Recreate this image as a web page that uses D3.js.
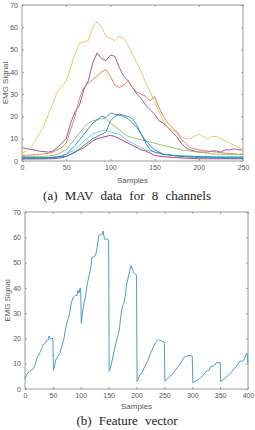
<!DOCTYPE html>
<html><head><meta charset="utf-8">
<script src="https://cdn.jsdelivr.net/npm/d3@7"></script>
<style>body{margin:0;background:#fff}svg{display:block}</style>
</head><body><svg id="c" width="255" height="430"></svg>
<script>
// ---- data: (a) MAV data for 8 channels (every 5 samples, 0..250)
const mavSamples = d3.range(0, 251, 5);
const chBlue = [1,1,1,1,1,1,1.2,1.5,1.8,2.2,3,5,7,9.5,12,14.5,17,18.5,20,19.5,21.5,21,20.5,20,19,17,15,12,9,7,5,4,3,2.8,2.5,2.3,2,2,1.8,1.7,1.5,1.5,1.5,1.4,1.4,1.4,1.3,1.3,1.3,1.3,1.3];
const chOrange = [2.5,2.6,2.7,2.8,3,3.2,3.5,4,5,6,8,14,20,28,33,35,36.5,38,40,41,38,34,33,34,36,33,31,30,29,27,29,24,20,17,15,13,10,8,6,5.5,5,4.8,4.5,4.2,4,3.8,3.5,3.3,3.2,3,3];
const chYellow = [3.5,4.5,6.4,9,12.4,16,21,26,31,33.5,36,42,48,53,53.5,54,60,62.5,60,56,55,54,56,55,52,48,44,40,35,31,27,22,18,15,14,13,11,10,10,11,12,11,10,11,11,10,9,8,7,6,5];
const chPurple = [6,5.6,5.2,4.8,4.4,4.2,4,4.5,6,8,10,17,22,25,32,36,44,48.5,46,45,47.5,47,42,38,36,33,30,28,25,23,21,18,17,15,13,11,8,6,5,4.5,4,4,4,4.5,4.5,4,5,5,5.5,5,5];
const chGreen = [2,2,2,2,2,2.1,2.2,2.5,3,4,5,7.5,10,12.5,15,17,18,18.5,19,19,17,15.5,14,12.5,11,10.5,10,9.5,9,8.5,8,7.5,7,6.5,6,5.5,5,4.8,4.5,4.2,4,3.8,3.5,3.2,3,3,3,3,3,3,3];
const chCyan = [1.5,1.5,1.5,1.5,1.5,1.6,1.7,1.8,2,2.5,3,4,5,7,9,10.5,12,13,13.5,14,13,12.5,12,10.5,9,8,7,6,5,4.5,4,3.5,3,2.8,2.6,2.5,2.4,2.3,2.2,2.1,2,2,2,2,2,2,2,2,2,2,2];
const chDarkRed = [1,1,1,1,1,1,1,1,1.2,1.5,2,3,4,5,6,7.5,9,10,10.5,11,11.5,11,10,9,8,7,6,5,4.5,3.5,2.5,2.2,2,1.8,1.6,1.5,1.4,1.3,1.2,1.1,1,1,1,1,1,1,1,1,1,1,1];
const chTeal = [1.5,1.5,1.5,1.5,1.5,1.5,1.5,1.6,1.8,2,2,3,4,5.5,7,8.5,10,11,12,13,18,20,21,20.5,20,19,16,12,8,5,4,3.5,3,2.8,2.5,2.3,2.2,2.1,2,2,2,1.9,1.8,1.7,1.6,1.5,1.5,1.5,1.5,1.5,1.5];
const mavSeries = [chPurple, chYellow, chOrange, chGreen, chCyan, chDarkRed, chTeal, chBlue];
const mavColors = ["#8a4a9a","#e8c050","#e0774a","#8cbc5a","#5cc6ee","#b02a50","#1a8fb0","#2b7fc0"];
const xTicksA = [0,50,100,150,200,250];
const yTicks = [0,10,20,30,40,50,60,70];

// ---- data: (b) Feature vector
const featSamples = [0,4,8,12,15,18,22,27,30,32,36,38,42,43,45,48,50,
 51,53,55,58,62,65,70,72,75,78,80,83,86,90,93,95,97,99,100,
 101,103,105,108,112,115,118,120,125,128,130,132,135,138,140,142,144,147,150,
 151,153,156,160,165,168,170,172,175,177,180,182,185,188,190,193,195,198,200,
 201,203,206,210,215,220,225,230,235,238,240,245,250,
 251,255,260,265,270,275,280,285,290,295,300,
 301,305,310,315,320,325,330,333,337,340,343,350,
 351,355,360,365,370,375,380,385,390,393,396,398,400];
const featValues = [4,6,7,7.5,8,9.5,12.5,14.5,16,17.5,18,19,19.5,21,20,20,20,
 7.5,9,11.5,12.5,14,16,20,23,26,28,30,34,36,37,37,39,38,40,38,
 26,30,33,36,42,45,48,52,52.5,54,57,60.5,61,61,62.5,60,59,59.5,59,
 7,8,11,15,20,22,25,29,33,33.5,37,41,44,47,48.8,47,46,45.5,45,
 3,4,5.5,6.5,9,11,14,16.5,18.5,19.3,19.5,19,18.5,
 3,4,5,6,7.5,9,10.5,12.5,13,13.3,13,
 2.5,3,3.5,4.5,5.5,7,7.5,9,9,9.5,10.3,10.5,
 3,3.5,4.5,5.5,6.5,8,9,11,11,11.5,13.5,14.2,10];
const xTicksB = [0,50,100,150,200,250,300,350,400];

const svg = d3.select("#c");
const axisCol = "#9a9a9a", textCol = "#555";

function panel(xDom, xr, yr, xTicks, caption, capY, labY, ylabX) {
  const x = d3.scaleLinear().domain(xDom).range(xr);
  const y = d3.scaleLinear().domain([0,70]).range(yr);
  const g = svg.append("g");
  // frame
  g.append("rect").attr("x", xr[0]).attr("y", yr[1]).attr("width", xr[1]-xr[0]).attr("height", yr[0]-yr[1])
    .attr("fill","none").attr("stroke", axisCol).attr("stroke-width",1);
  const ax = [
    d3.axisBottom(x).tickValues(xTicks).tickSize(-2).tickPadding(4),
    d3.axisTop(x).tickValues(xTicks).tickSize(-2).tickFormat(""),
    d3.axisLeft(y).tickValues(yTicks).tickSize(-2).tickPadding(4),
    d3.axisRight(y).tickValues(yTicks).tickSize(-2).tickFormat("")
  ];
  const pos = [`translate(0,${yr[0]})`,`translate(0,${yr[1]})`,`translate(${xr[0]},0)`,`translate(${xr[1]},0)`];
  ax.forEach((a,i)=>{
    const ag = g.append("g").attr("transform",pos[i]).call(a);
    ag.select(".domain").remove();
    ag.selectAll("line").attr("stroke", axisCol);
    ag.selectAll("text").attr("fill", textCol).attr("font-size","7px").attr("font-family","Liberation Sans, Arial, sans-serif");
  });
  g.append("text").attr("x",(xr[0]+xr[1])/2).attr("y",labY).attr("text-anchor","middle")
    .attr("font-size","8px").attr("fill",textCol).attr("font-family","Liberation Sans, Arial, sans-serif").text("Samples");
  g.append("text").attr("transform",`translate(${ylabX},${(yr[0]+yr[1])/2}) rotate(-90)`).attr("text-anchor","middle")
    .attr("font-size","8px").attr("fill",textCol).attr("font-family","Liberation Sans, Arial, sans-serif").text("EMG Signal");
  svg.append("text").attr("x",127).attr("y",capY).attr("text-anchor","middle")
    .attr("font-size","13px").attr("word-spacing","4px").attr("fill","#222")
    .attr("font-family","Liberation Serif, Times New Roman, serif").text(caption);
  return {x,y,g};
}

const A = panel([0,250],[22,243],[161,5],xTicksA,"(a)  MAV  data  for  8  channels",200,183,8);
const lineA = d3.line().x((d,i)=>A.x(mavSamples[i])).y(d=>A.y(d));
mavSeries.forEach((s,k)=>{
  A.g.append("path").datum(s).attr("d",lineA).attr("fill","none").attr("stroke",mavColors[k]).attr("stroke-width",0.9);
});

const B = panel([0,400],[25,248],[389,212],xTicksB,"(b)  Feature  vector",425,409,10);
const lineB = d3.line().x((d,i)=>B.x(featSamples[i])).y(d=>B.y(d));
B.g.append("path").datum(featValues).attr("d",lineB).attr("fill","none").attr("stroke","#3a92c0").attr("stroke-width",0.9);
</script></body></html>
